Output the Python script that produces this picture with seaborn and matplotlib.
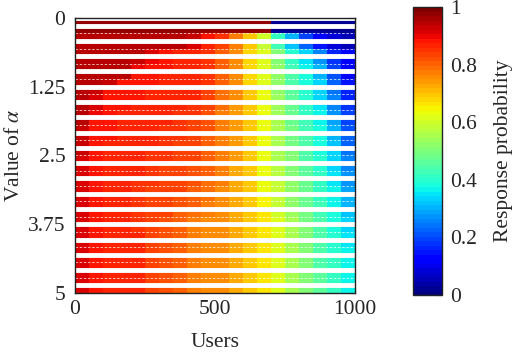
import matplotlib
matplotlib.use('Agg')
import matplotlib.pyplot as plt
import numpy as np
import seaborn as sns

# users are grouped in bins of 50, alpha runs from 0 to 5
users_per_bin = 50
alpha_max = 5
user_ticks = [0, 500, 1000]
alpha_ticks = [0, 1.25, 2.5, 3.75, 5]
alpha_labels = ['0', '1.25', '2.5', '3.75', '5']
prob_ticks = [0, 0.2, 0.4, 0.6, 0.8, 1]
prob_labels = ['0', '0.2', '0.4', '0.6', '0.8', '1']

# response probability, one row per alpha value, one column per user bin
response = [
    [.97, .97, .97, .97, .97, .97, .97, .97, .97, .97, .97, .97, .97, .97, .03, .03, .03, .03, .03, .03],
    [.97, .97, .97, .97, .97, .97, .97, .97, .97, .97, .97, .97, .97, .97, .03, .03, .03, .03, .03, .03],
    [.95, .95, .95, .95, .95, .95, .95, .95, .93, .88, .85, .78, .70, .60, .42, .30, .20, .14, .08, .05],
    [.95, .95, .95, .95, .95, .95, .95, .95, .92, .87, .84, .77, .69, .58, .43, .32, .22, .15, .09, .06],
    [.95, .95, .95, .95, .95, .91, .88, .87, .86, .85, .80, .75, .68, .62, .50, .40, .34, .26, .17, .11],
    [.95, .95, .95, .95, .93, .90, .88, .87, .86, .85, .80, .75, .68, .61, .51, .41, .35, .27, .18, .12],
    [.95, .95, .95, .95, .90, .88, .88, .87, .86, .85, .80, .75, .68, .62, .52, .43, .37, .30, .20, .13],
    [.95, .95, .95, .94, .89, .88, .87, .87, .86, .85, .80, .75, .68, .62, .52, .44, .38, .31, .21, .14],
    [.95, .95, .93, .89, .88, .88, .87, .87, .86, .85, .80, .75, .68, .62, .53, .45, .39, .33, .22, .15],
    [.95, .93, .89, .88, .88, .87, .87, .86, .86, .84, .79, .75, .69, .63, .53, .46, .40, .34, .24, .16],
    [.95, .92, .89, .88, .88, .87, .87, .86, .86, .84, .79, .75, .69, .63, .54, .46, .40, .34, .25, .17],
    [.94, .91, .88, .88, .87, .87, .86, .86, .85, .83, .79, .74, .69, .63, .54, .47, .41, .35, .26, .18],
    [.94, .90, .88, .87, .87, .86, .86, .85, .85, .82, .78, .74, .69, .63, .54, .48, .42, .36, .28, .19],
    [.94, .89, .88, .87, .87, .86, .86, .85, .84, .82, .78, .74, .69, .63, .55, .48, .43, .37, .29, .20],
    [.93, .89, .88, .87, .86, .86, .85, .85, .84, .82, .78, .74, .69, .63, .55, .49, .43, .38, .30, .21],
    [.93, .89, .88, .87, .86, .86, .85, .85, .84, .81, .78, .74, .69, .63, .55, .49, .44, .38, .31, .22],
    [.93, .88, .87, .87, .86, .86, .85, .84, .83, .81, .78, .74, .69, .63, .55, .49, .44, .39, .32, .23],
    [.93, .88, .87, .87, .86, .85, .85, .84, .83, .81, .78, .74, .69, .63, .56, .50, .45, .39, .33, .24],
    [.92, .88, .87, .86, .86, .85, .85, .84, .83, .80, .77, .74, .69, .64, .56, .50, .45, .40, .33, .25],
    [.92, .88, .87, .86, .86, .85, .84, .84, .82, .80, .77, .73, .69, .64, .57, .51, .46, .40, .34, .26],
    [.92, .88, .87, .86, .86, .85, .84, .83, .82, .80, .77, .73, .69, .64, .57, .51, .46, .41, .35, .27],
    [.92, .88, .87, .86, .85, .85, .84, .83, .82, .79, .77, .73, .69, .64, .58, .52, .47, .41, .35, .28],
    [.92, .88, .87, .86, .85, .84, .84, .83, .81, .79, .76, .73, .69, .64, .58, .52, .47, .42, .36, .29],
    [.92, .88, .87, .86, .85, .84, .83, .82, .81, .79, .76, .73, .70, .65, .59, .53, .48, .42, .36, .30],
    [.92, .88, .87, .86, .85, .84, .83, .82, .80, .78, .76, .73, .70, .65, .59, .53, .48, .43, .37, .31],
    [.92, .88, .87, .86, .85, .84, .83, .81, .79, .77, .75, .73, .70, .66, .60, .54, .49, .43, .38, .32],
    [.92, .88, .87, .86, .85, .84, .82, .80, .78, .76, .75, .73, .70, .66, .61, .55, .49, .44, .39, .33],
    [.92, .88, .87, .86, .85, .84, .82, .80, .78, .76, .75, .73, .70, .66, .61, .55, .50, .44, .39, .34],
    [.92, .88, .87, .86, .86, .84, .82, .80, .78, .76, .75, .73, .70, .66, .61, .55, .50, .44, .40, .35],
    [.92, .88, .87, .86, .86, .84, .82, .80, .78, .76, .75, .73, .70, .66, .62, .56, .50, .45, .40, .35],
    [.92, .88, .87, .86, .86, .84, .82, .80, .78, .76, .75, .73, .70, .66, .62, .56, .50, .45, .40, .36],
    [.92, .88, .87, .86, .86, .84, .82, .80, .78, .76, .75, .73, .70, .66, .62, .56, .51, .45, .41, .36],
    [.92, .88, .87, .86, .86, .84, .82, .80, .78, .76, .75, .73, .70, .66, .62, .56, .51, .45, .41, .37],
    [.92, .88, .87, .86, .86, .84, .82, .80, .78, .76, .75, .73, .70, .66, .62, .56, .51, .46, .41, .37],
    [.92, .88, .87, .86, .86, .84, .82, .80, .78, .76, .75, .73, .70, .66, .62, .56, .51, .46, .41, .37],
    [.92, .88, .87, .86, .86, .84, .82, .80, .78, .76, .75, .73, .70, .66, .62, .56, .51, .46, .41, .37],
]

sns.set_theme(style='white')
plt.rcParams['font.family'] = ['Liberation Serif', 'DejaVu Serif']
plt.rcParams['mathtext.fontset'] = 'stix'
fs = 15.5

fig = plt.figure(figsize=(5.12, 3.56), dpi=100)
ax = fig.add_axes([75 / 512, 1 - 293 / 356, 280 / 512, 275 / 356])
cax = fig.add_axes([413 / 512, 1 - 295 / 356, 29 / 512, 288 / 356])

data = np.array(response)
n_rows, n_cols = data.shape
cmap = matplotlib.colormaps['jet'].resampled(64)
sns.heatmap(data, cmap=cmap, vmin=0, vmax=1, ax=ax, cbar_ax=cax,
            xticklabels=False, yticklabels=False)

# white gaps between the bands, thin dashed lines inside them
thick = [0] + list(range(1, n_rows, 2))
thin = list(range(2, n_rows, 2))
ax.hlines(thick, 0, n_cols, colors='white', linewidths=3.5)
ax.hlines(thin, 0, n_cols, colors='white', linewidths=0.6,
          linestyles=(0, (3, 2)), alpha=0.8)

ax.set_xticks([u / users_per_bin for u in user_ticks])
ax.set_xticklabels([str(u) for u in user_ticks], rotation=0)
ax.set_yticks([a / alpha_max * n_rows for a in alpha_ticks])
ax.set_yticklabels(alpha_labels, rotation=0)
ax.tick_params(direction='in', length=4, width=0.8, color='#222222',
               top=True, right=True, bottom=True, left=True, labelsize=fs)
ax.tick_params(axis='y', pad=7)
ax.tick_params(axis='x', pad=5)
for s in ax.spines.values():
    s.set_visible(True)
    s.set_color('#222222')
    s.set_linewidth(1)
ax.set_xlabel('Users', fontsize=fs, labelpad=10)
ax.set_ylabel(r'Value of $\alpha$', fontsize=fs, labelpad=3)

cbar = ax.collections[0].colorbar
cbar.set_ticks(prob_ticks)
cbar.set_ticklabels(prob_labels)
cbar.outline.set_linewidth(1)
cbar.outline.set_edgecolor('#222222')
cax.tick_params(direction='in', length=4, width=0.8, color='#222222',
                right=True, labelsize=fs, pad=6)
cbar.set_label('Response probability', fontsize=fs, labelpad=12)

fig.savefig('out.png', dpi=100)
